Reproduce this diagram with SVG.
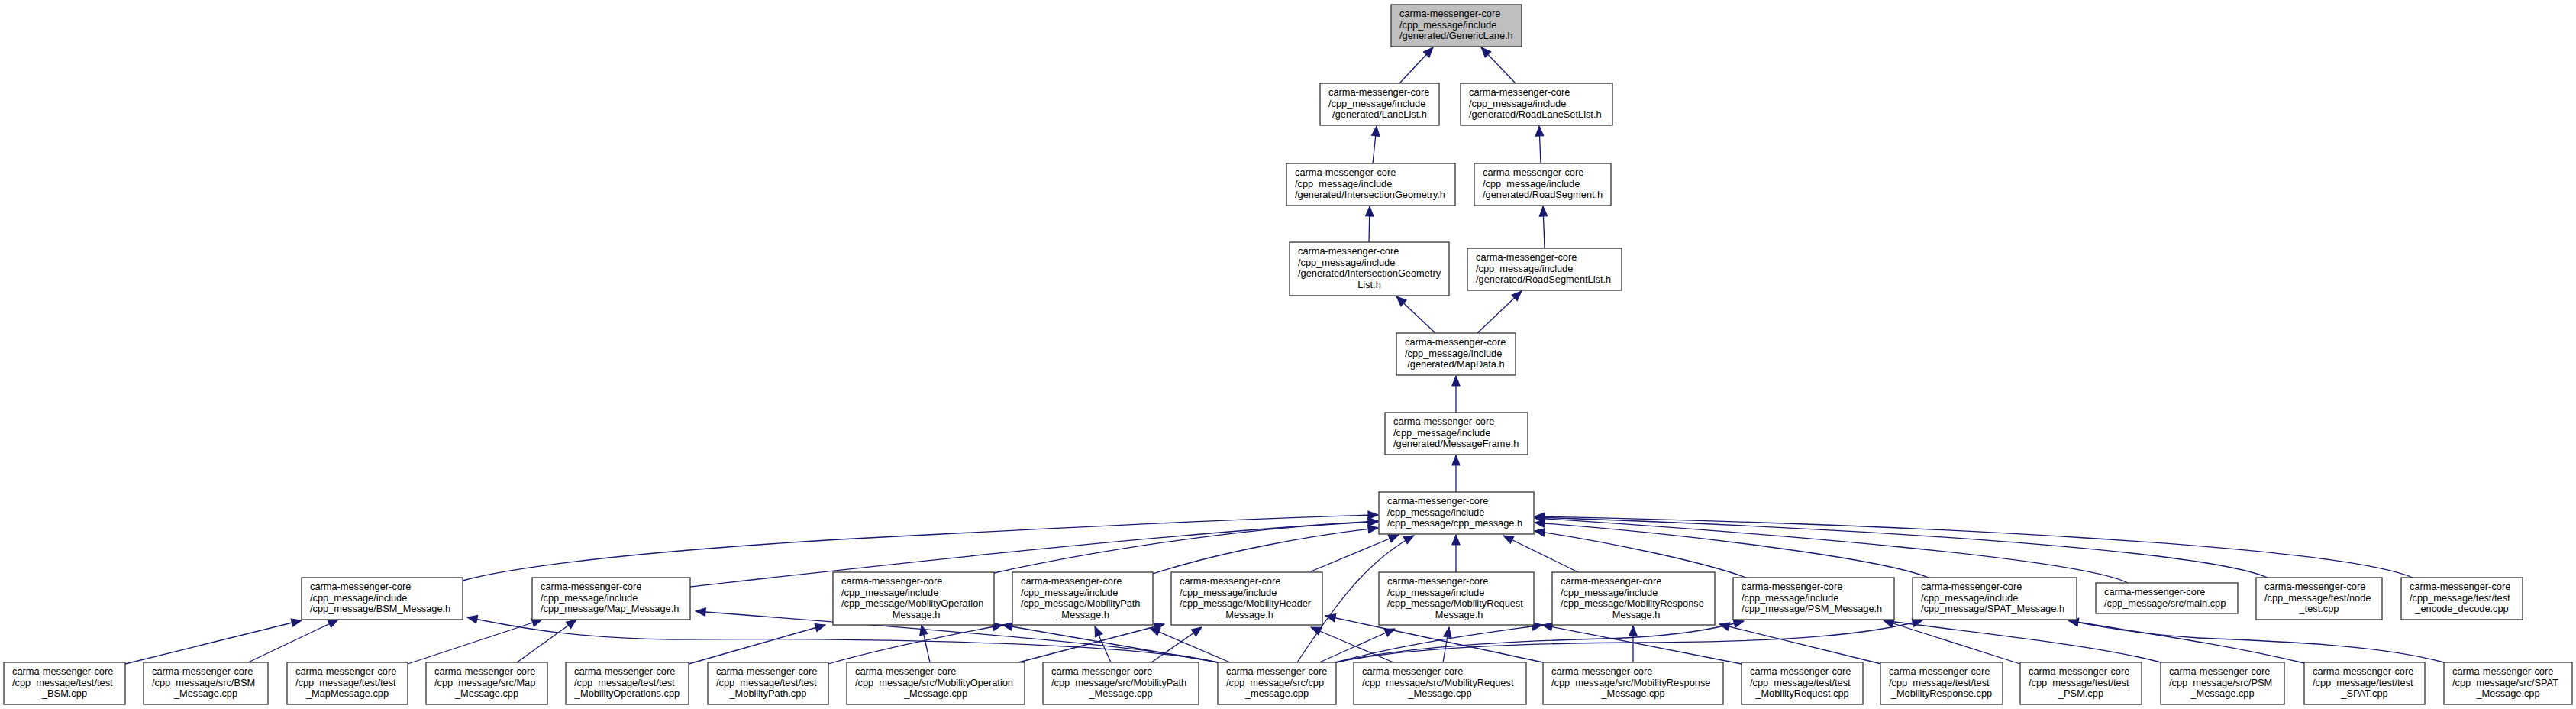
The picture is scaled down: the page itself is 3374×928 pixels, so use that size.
<svg xmlns="http://www.w3.org/2000/svg" width="3374" height="928" viewBox="0 0 3374 928">
<style>
.n rect{fill:#fff;stroke:#333;stroke-width:1.3}
.root rect{fill:#bfbfbf}
text{font-family:"Liberation Sans",Arial,Helvetica,sans-serif;font-size:12.8px;fill:#000}
.c{text-anchor:middle}
#edges path{fill:none;stroke:#191970;stroke-width:1.3;marker-end:url(#ah)}
</style>
<defs>
<marker id="ah" markerUnits="userSpaceOnUse" markerWidth="15" markerHeight="13" viewBox="0 0 15 13" refX="14" refY="6.5" orient="auto"><path d="M1,1.2 L14,6.5 L1,11.8 z" fill="#191970" stroke="#191970" stroke-width="1"/></marker>
</defs>
<rect width="3374" height="928" fill="#fff"/>
<g id="edges">
<path d="M1833,109 L1877,62"/>
<path d="M1985,109 L1940,62"/>
<path d="M1798,214 L1803,165"/>
<path d="M2018,214 L2016,165"/>
<path d="M1793,317 L1794,270"/>
<path d="M2023,325 L2021,270"/>
<path d="M1880,436 L1829,388"/>
<path d="M1935,436 L1993,381"/>
<path d="M1907,540 L1907,492"/>
<path d="M1907,644 L1907,596"/>
<path d="M606,760 C660,745 800,724 1100,706 C1400,690 1650,678 1805,674"/>
<path d="M904,768 C1100,746 1500,700 1805,682"/>
<path d="M1302,750 C1420,724 1620,690 1805,683"/>
<path d="M1510,751 C1600,722 1720,700 1805,691"/>
<path d="M1717,748 L1832,700"/>
<path d="M1699,867 C1750,790 1790,735 1852,701"/>
<path d="M1907,749 L1907,700"/>
<path d="M2067,749 L1969,701"/>
<path d="M2287,756 C2230,735 2100,708 2010,695"/>
<path d="M2526,756 C2460,730 2200,698 2010,684"/>
<path d="M2787,763 C2720,730 2300,697 2010,678"/>
<path d="M2970,756 C2880,718 2400,690 2010,677"/>
<path d="M3160,756 C3060,714 2500,686 2010,676"/>
<path d="M164,869 L395,812"/>
<path d="M325,867 L443,811"/>
<path d="M534,869 L710,811"/>
<path d="M677,867 L755,811"/>
<path d="M902,869 L1081,818"/>
<path d="M1085,869 C1150,850 1250,830 1313,818"/>
<path d="M1218,867 L1207,818"/>
<path d="M1334,867 L1525,817"/>
<path d="M1455,867 L1434,820"/>
<path d="M1508,867 L1574,821"/>
<path d="M1825,867 L1717,821"/>
<path d="M1890,867 L1898,821"/>
<path d="M2021,867 L1736,806"/>
<path d="M2139,867 L2139,819"/>
<path d="M2281,869 L2020,818"/>
<path d="M2464,869 L2252,817"/>
<path d="M2646,869 L2467,812"/>
<path d="M2830,867 C2750,845 2600,830 2467,812"/>
<path d="M3018,868 C2900,840 2780,825 2709,812"/>
<path d="M3201,867 C3120,845 3000,840 2880,835 C2800,830 2750,820 2709,812"/>
<path d="M1595,867 C1450,835 1000,836 880,837 C760,836 680,822 612,808"/>
<path d="M1595,867 C1520,848 1300,830 911,800"/>
<path d="M1595,867 L1313,818"/>
<path d="M1611,867 L1506,822"/>
<path d="M1728,867 L1827,823"/>
<path d="M1749,867 C1850,840 1950,828 2020,818"/>
<path d="M1750,867 C1820,850 1950,840 2100,836 C2200,833 2250,822 2284,813"/>
<path d="M1750,867 C1820,852 1950,842 2150,841 C2350,840 2450,830 2518,812"/>
</g>
<g id="n-GenericLane" class="n root"><rect x="1822" y="6" width="171" height="55"/><text x="1833" y="22">carma-messenger-core</text><text x="1833" y="36.5">/cpp_message/include</text><text x="1833" y="51">/generated/GenericLane.h</text></g>
<g id="n-LaneList" class="n"><rect x="1729" y="109" width="156" height="55"/><text x="1740" y="125">carma-messenger-core</text><text x="1740" y="139.5">/cpp_message/include</text><text class="c" x="1807" y="154">/generated/LaneList.h</text></g>
<g id="n-RoadLaneSetList" class="n"><rect x="1913" y="109" width="199" height="55"/><text x="1924" y="125">carma-messenger-core</text><text x="1924" y="139.5">/cpp_message/include</text><text x="1924" y="154">/generated/RoadLaneSetList.h</text></g>
<g id="n-IntersectionGeometry" class="n"><rect x="1685" y="214" width="221" height="55"/><text x="1696" y="230">carma-messenger-core</text><text x="1696" y="244.5">/cpp_message/include</text><text x="1696" y="259">/generated/IntersectionGeometry.h</text></g>
<g id="n-RoadSegment" class="n"><rect x="1931" y="214" width="179" height="55"/><text x="1942" y="230">carma-messenger-core</text><text x="1942" y="244.5">/cpp_message/include</text><text x="1942" y="259">/generated/RoadSegment.h</text></g>
<g id="n-IntersectionGeometryList" class="n"><rect x="1689" y="317" width="209" height="70"/><text x="1700" y="333">carma-messenger-core</text><text x="1700" y="347.5">/cpp_message/include</text><text x="1700" y="362">/generated/IntersectionGeometry</text><text class="c" x="1793.5" y="376.5">List.h</text></g>
<g id="n-RoadSegmentList" class="n"><rect x="1922" y="325" width="202" height="55"/><text x="1933" y="341">carma-messenger-core</text><text x="1933" y="355.5">/cpp_message/include</text><text x="1933" y="370">/generated/RoadSegmentList.h</text></g>
<g id="n-MapData" class="n"><rect x="1829" y="436" width="156" height="55"/><text x="1840" y="452">carma-messenger-core</text><text x="1840" y="466.5">/cpp_message/include</text><text class="c" x="1907" y="481">/generated/MapData.h</text></g>
<g id="n-MessageFrame" class="n"><rect x="1814" y="540" width="187" height="55"/><text x="1825" y="556">carma-messenger-core</text><text x="1825" y="570.5">/cpp_message/include</text><text x="1825" y="585">/generated/MessageFrame.h</text></g>
<g id="n-cpp_message_h" class="n"><rect x="1806" y="644" width="203" height="55"/><text x="1817" y="660">carma-messenger-core</text><text x="1817" y="674.5">/cpp_message/include</text><text x="1817" y="689">/cpp_message/cpp_message.h</text></g>
<g id="n-BSM_Message_h" class="n"><rect x="395" y="756" width="211" height="55"/><text x="406" y="772">carma-messenger-core</text><text x="406" y="786.5">/cpp_message/include</text><text x="406" y="801">/cpp_message/BSM_Message.h</text></g>
<g id="n-Map_Message_h" class="n"><rect x="697" y="756" width="207" height="55"/><text x="708" y="772">carma-messenger-core</text><text x="708" y="786.5">/cpp_message/include</text><text x="708" y="801">/cpp_message/Map_Message.h</text></g>
<g id="n-MobilityOperation_Message_h" class="n"><rect x="1091" y="749" width="211" height="69"/><text x="1102" y="765">carma-messenger-core</text><text x="1102" y="779.5">/cpp_message/include</text><text x="1102" y="794">/cpp_message/MobilityOperation</text><text class="c" x="1196.5" y="808.5">_Message.h</text></g>
<g id="n-MobilityPath_Message_h" class="n"><rect x="1326" y="749" width="184" height="69"/><text x="1337" y="765">carma-messenger-core</text><text x="1337" y="779.5">/cpp_message/include</text><text x="1337" y="794">/cpp_message/MobilityPath</text><text class="c" x="1418" y="808.5">_Message.h</text></g>
<g id="n-MobilityHeader_Message_h" class="n"><rect x="1534" y="749" width="198" height="69"/><text x="1545" y="765">carma-messenger-core</text><text x="1545" y="779.5">/cpp_message/include</text><text x="1545" y="794">/cpp_message/MobilityHeader</text><text class="c" x="1633" y="808.5">_Message.h</text></g>
<g id="n-MobilityRequest_Message_h" class="n"><rect x="1806" y="749" width="203" height="69"/><text x="1817" y="765">carma-messenger-core</text><text x="1817" y="779.5">/cpp_message/include</text><text x="1817" y="794">/cpp_message/MobilityRequest</text><text class="c" x="1907.5" y="808.5">_Message.h</text></g>
<g id="n-MobilityResponse_Message_h" class="n"><rect x="2033" y="749" width="213" height="69"/><text x="2044" y="765">carma-messenger-core</text><text x="2044" y="779.5">/cpp_message/include</text><text x="2044" y="794">/cpp_message/MobilityResponse</text><text class="c" x="2139.5" y="808.5">_Message.h</text></g>
<g id="n-PSM_Message_h" class="n"><rect x="2270" y="756" width="211" height="55"/><text x="2281" y="772">carma-messenger-core</text><text x="2281" y="786.5">/cpp_message/include</text><text x="2281" y="801">/cpp_message/PSM_Message.h</text></g>
<g id="n-SPAT_Message_h" class="n"><rect x="2505" y="756" width="215" height="55"/><text x="2516" y="772">carma-messenger-core</text><text x="2516" y="786.5">/cpp_message/include</text><text x="2516" y="801">/cpp_message/SPAT_Message.h</text></g>
<g id="n-main_cpp" class="n"><rect x="2745" y="763" width="186" height="40"/><text x="2756" y="779">carma-messenger-core</text><text x="2756" y="793.5">/cpp_message/src/main.cpp</text></g>
<g id="n-node_test_cpp" class="n"><rect x="2955" y="756" width="165" height="55"/><text x="2966" y="772">carma-messenger-core</text><text x="2966" y="786.5">/cpp_message/test/node</text><text class="c" x="3037.5" y="801">_test.cpp</text></g>
<g id="n-test_encode_decode_cpp" class="n"><rect x="3145" y="756" width="159" height="55"/><text x="3156" y="772">carma-messenger-core</text><text x="3156" y="786.5">/cpp_message/test/test</text><text class="c" x="3224.5" y="801">_encode_decode.cpp</text></g>
<g id="n-test_BSM_cpp" class="n"><rect x="5" y="867" width="159" height="55"/><text x="16" y="883">carma-messenger-core</text><text x="16" y="897.5">/cpp_message/test/test</text><text class="c" x="84.5" y="912">_BSM.cpp</text></g>
<g id="n-src_BSM_Message_cpp" class="n"><rect x="188" y="867" width="163" height="55"/><text x="199" y="883">carma-messenger-core</text><text x="199" y="897.5">/cpp_message/src/BSM</text><text class="c" x="269.5" y="912">_Message.cpp</text></g>
<g id="n-test_MapMessage_cpp" class="n"><rect x="376" y="867" width="158" height="55"/><text x="387" y="883">carma-messenger-core</text><text x="387" y="897.5">/cpp_message/test/test</text><text class="c" x="455" y="912">_MapMessage.cpp</text></g>
<g id="n-src_Map_Message_cpp" class="n"><rect x="558" y="867" width="159" height="55"/><text x="569" y="883">carma-messenger-core</text><text x="569" y="897.5">/cpp_message/src/Map</text><text class="c" x="637.5" y="912">_Message.cpp</text></g>
<g id="n-test_MobilityOperations_cpp" class="n"><rect x="741" y="867" width="161" height="55"/><text x="752" y="883">carma-messenger-core</text><text x="752" y="897.5">/cpp_message/test/test</text><text class="c" x="821.5" y="912">_MobilityOperations.cpp</text></g>
<g id="n-test_MobilityPath_cpp" class="n"><rect x="927" y="867" width="158" height="55"/><text x="938" y="883">carma-messenger-core</text><text x="938" y="897.5">/cpp_message/test/test</text><text class="c" x="1006" y="912">_MobilityPath.cpp</text></g>
<g id="n-src_MobilityOperation_Message_cpp" class="n"><rect x="1109" y="867" width="233" height="55"/><text x="1120" y="883">carma-messenger-core</text><text x="1120" y="897.5">/cpp_message/src/MobilityOperation</text><text class="c" x="1225.5" y="912">_Message.cpp</text></g>
<g id="n-src_MobilityPath_Message_cpp" class="n"><rect x="1366" y="867" width="204" height="55"/><text x="1377" y="883">carma-messenger-core</text><text x="1377" y="897.5">/cpp_message/src/MobilityPath</text><text class="c" x="1468" y="912">_Message.cpp</text></g>
<g id="n-src_cpp_message_cpp" class="n"><rect x="1595" y="867" width="155" height="55"/><text x="1606" y="883">carma-messenger-core</text><text x="1606" y="897.5">/cpp_message/src/cpp</text><text class="c" x="1672.5" y="912">_message.cpp</text></g>
<g id="n-src_MobilityRequest_Message_cpp" class="n"><rect x="1773" y="867" width="226" height="55"/><text x="1784" y="883">carma-messenger-core</text><text x="1784" y="897.5">/cpp_message/src/MobilityRequest</text><text class="c" x="1886" y="912">_Message.cpp</text></g>
<g id="n-src_MobilityResponse_Message_cpp" class="n"><rect x="2021" y="867" width="236" height="55"/><text x="2032" y="883">carma-messenger-core</text><text x="2032" y="897.5">/cpp_message/src/MobilityResponse</text><text class="c" x="2139" y="912">_Message.cpp</text></g>
<g id="n-test_MobilityRequest_cpp" class="n"><rect x="2281" y="867" width="159" height="55"/><text x="2292" y="883">carma-messenger-core</text><text x="2292" y="897.5">/cpp_message/test/test</text><text class="c" x="2360.5" y="912">_MobilityRequest.cpp</text></g>
<g id="n-test_MobilityResponse_cpp" class="n"><rect x="2463" y="867" width="160" height="55"/><text x="2474" y="883">carma-messenger-core</text><text x="2474" y="897.5">/cpp_message/test/test</text><text class="c" x="2543" y="912">_MobilityResponse.cpp</text></g>
<g id="n-test_PSM_cpp" class="n"><rect x="2646" y="867" width="159" height="55"/><text x="2657" y="883">carma-messenger-core</text><text x="2657" y="897.5">/cpp_message/test/test</text><text class="c" x="2725.5" y="912">_PSM.cpp</text></g>
<g id="n-src_PSM_Message_cpp" class="n"><rect x="2830" y="867" width="162" height="55"/><text x="2841" y="883">carma-messenger-core</text><text x="2841" y="897.5">/cpp_message/src/PSM</text><text class="c" x="2911" y="912">_Message.cpp</text></g>
<g id="n-test_SPAT_cpp" class="n"><rect x="3018" y="867" width="158" height="55"/><text x="3029" y="883">carma-messenger-core</text><text x="3029" y="897.5">/cpp_message/test/test</text><text class="c" x="3097" y="912">_SPAT.cpp</text></g>
<g id="n-src_SPAT_Message_cpp" class="n"><rect x="3201" y="867" width="168" height="55"/><text x="3212" y="883">carma-messenger-core</text><text x="3212" y="897.5">/cpp_message/src/SPAT</text><text class="c" x="3285" y="912">_Message.cpp</text></g>
</svg>
